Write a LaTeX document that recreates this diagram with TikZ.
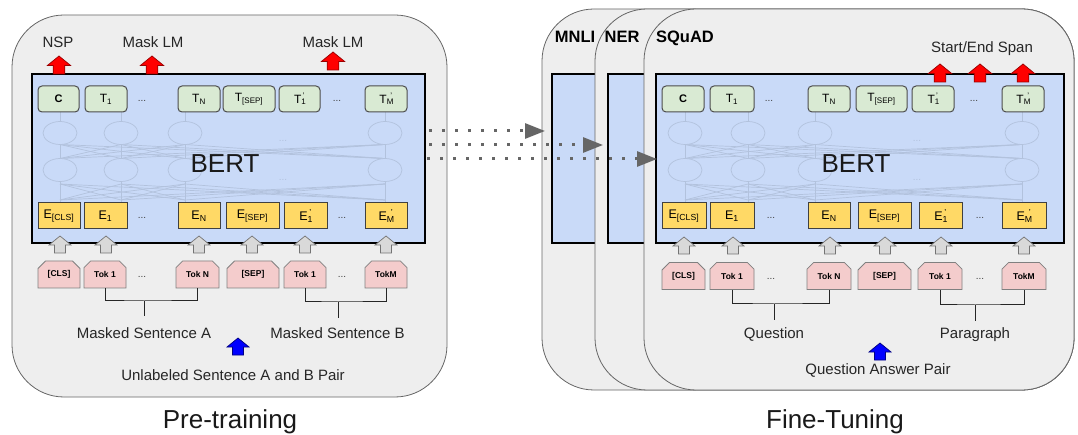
\documentclass[tikz,border=0pt]{standalone}
\usepackage{fontspec}
\setmainfont{Liberation Sans}
\usepackage{tikz}
\usetikzlibrary{shapes.misc,arrows.meta,positioning}

\definecolor{panelgray}{HTML}{EEEEEE}
\definecolor{bertblue}{HTML}{C9DAF8}
\definecolor{tgreen}{HTML}{D9EAD3}
\definecolor{eyellow}{HTML}{FFD966}
\definecolor{tokpink}{HTML}{F4CCCC}
\definecolor{netline}{HTML}{B2C2DD}

\newcommand{\tsub}[2]{#1\textsubscript{#2}}
\newcommand{\tsubp}[2]{#1\textsubscript{#2}\kern-0.3em\textsuperscript{'}}

\tikzset{
  panel/.style={draw=black!60, fill=panelgray, rounded corners=52pt, line width=0.8pt},
  bertbox/.style={draw=black, fill=bertblue, line width=2pt, inner sep=0pt},
  tbox/.style={draw=black!70, fill=tgreen, rounded corners=4pt, line width=1pt, minimum height=26pt, inner sep=0pt, font=\fontsize{12}{12}\selectfont},
  ebox/.style={draw=black!75, fill=eyellow, line width=1pt, minimum height=26pt, inner sep=0pt, font=\fontsize{12.5}{12.5}\selectfont},
  tokbox/.style={chamfered rectangle, chamfered rectangle corners={north west,north east}, chamfered rectangle xsep=4pt, draw=black!50, fill=tokpink, line width=0.8pt, minimum height=27pt, inner sep=0pt, font=\bfseries\fontsize{8.5}{9}\selectfont},
  dots/.style={font=\fontsize{10}{10}\selectfont, text=black!75},
  lbl/.style={font=\fontsize{15}{15}\selectfont, text=black!85, anchor=base, inner sep=0pt},
  tasklbl/.style={font=\bfseries\fontsize{16.5}{16.5}\selectfont, anchor=base, inner sep=0pt},
  biglbl/.style={font=\fontsize{26}{26}\selectfont, text=black!90, anchor=base, inner sep=0pt},
  net/.style={draw=netline, line width=0.7pt},
  brk/.style={draw=black!85, line width=1pt},
  dotarr/.style={draw=black!60, line width=3pt, dash pattern=on 3pt off 10pt, -{Triangle[length=20pt,width=15pt]}},
  blockup/.pic={\path[pic actions] (-5.5,0) -- (-5.5,-8) -- (-11,-8) -- (0,-17) -- (11,-8) -- (5.5,-8) -- (5.5,0) -- cycle;},
  grayarr/.style={draw=black!55, fill=black!15, line width=0.7pt},
  redarr/.style={draw=red!60!black, fill=red, line width=0.7pt, scale=1.06},
  bluearr/.style={draw=blue!50!black, fill=blue, line width=0.7pt},
}

\begin{document}
\begin{tikzpicture}[x=1pt, y=-1pt]
\useasboundingbox (0,0) rectangle (1078,435);

% pre-training panel
\draw[panel] (12,15) rectangle (447,397);
\node[bertbox, minimum width=393pt, minimum height=169pt] (pBert) at (228.5,158.5) {};
\foreach \cx in {60,121,185,385} {
  \draw[net] (\cx,112) -- (\cx,121.5);
  \draw[net] (\cx,181.5) -- (\cx,203);
  \foreach \dx in {60,121,185,385} {
    \draw[net] (\cx,144.5) -- (\dx,158.5);
    \draw[net] (\cx,184) -- (\dx,200);
  }
}
\foreach \cx in {60,121,185,385} {
  \draw[net, fill=bertblue] (\cx,133) ellipse (17 and 11.5);
  \draw[net, fill=bertblue] (\cx,170) ellipse (17 and 11.5);
}
\node[dots, text=netline] at (283,141) {...};
\node[dots, text=netline] at (283,180) {...};
\node[biglbl] (pBertLbl) at (225,173) {BERT};

\node[tbox, minimum width=41pt, font=\bfseries\fontsize{11}{11}\selectfont] (pC) at (58.5,99) {C};
\node[tbox, minimum width=42pt] (pT1) at (106,99) {\tsub{T}{1}};
\node[dots] at (142,101) {...};
\node[tbox, minimum width=42pt] (pTN) at (199,99) {\tsub{T}{N}};
\node[tbox, minimum width=52pt] (pTS) at (249,99) {\tsub{T}{[SEP]}};
\node[tbox, minimum width=41pt] (pT1b) at (299.5,99) {\tsubp{T}{1}};
\node[dots] at (337,101) {...};
\node[tbox, minimum width=42pt] (pTM) at (386,99) {\tsubp{T}{M}};

\node[ebox, minimum width=42pt] (pEC) at (59,216) {\tsub{E}{[CLS]}};
\node[ebox, minimum width=43pt] (pE1) at (105.5,216) {\tsub{E}{1}};
\node[dots] at (142,218) {...};
\node[ebox, minimum width=42pt] (pEN) at (199,216) {\tsub{E}{N}};
\node[ebox, minimum width=53pt] (pES) at (252.5,216) {\tsub{E}{[SEP]}};
\node[ebox, minimum width=43pt] (pE1b) at (305.5,216) {\tsubp{E}{1}};
\node[dots] at (342,218) {...};
\node[ebox, minimum width=42pt] (pEM) at (386,216) {\tsubp{E}{M}};

\foreach \ax in {60,106,199,252,305,386}
  \pic[grayarr] at (\ax,253) {blockup};

\node[tokbox, minimum width=42pt] (pK0) at (59,274.5) {[CLS]};
\node[tokbox, minimum width=42pt] (pK1) at (105,274.5) {Tok 1};
\node[dots] at (142,277) {...};
\node[tokbox, minimum width=43pt] (pKN) at (197.5,274.5) {Tok N};
\node[tokbox, minimum width=52pt] (pKS) at (253,274.5) {[SEP]};
\node[tokbox, minimum width=42pt] (pK1b) at (305,274.5) {Tok 1};
\node[dots] at (342,277) {...};
\node[tokbox, minimum width=42pt] (pKM) at (386,274.5) {TokM};

\coordinate (pbA) at (144,301);
\coordinate (pbB) at (338,302);
\draw[brk] (pK1.south) |- (pbA) -| (pKN.south);
\draw[brk] (pbA) -- ++(0,15);
\draw[brk] (pK1b.south) |- (pbB) -| (pKM.south);
\draw[brk] (pbB) -- ++(0,16);

\node[lbl] (pSentA) at (144,338) {Masked Sentence A};
\node[lbl] (pSentB) at (337.5,338) {Masked Sentence B};
\pic[bluearr] at (238,355) {blockup};
\node[lbl] (pPair) at (233,380) {Unlabeled Sentence A and B Pair};

\pic[redarr] at (59,74) {blockup};
\pic[redarr] at (152,74) {blockup};
\pic[redarr] at (333,70) {blockup};
\node[lbl] (nsp) at (58,48) {NSP};
\node[lbl] (mlmA) at (153,48) {Mask LM};
\node[lbl] (mlmB) at (333,48) {Mask LM};

\node[biglbl] (preLbl) at (230,428) {Pre-training};

% fine-tuning panels
\draw[panel] (542,9) rectangle (1074,390);
\node[bertbox, minimum width=512pt, minimum height=169pt] (mBert) at (808,158.5) {};
\node[tasklbl] (mnli) at (575,43) {MNLI};
\draw[panel] (595,9) rectangle (1074,390);
\node[bertbox, minimum width=456pt, minimum height=169pt] (nBert) at (836,158.5) {};
\node[tasklbl] (ner) at (622,43) {NER};
\draw[panel] (644,9) rectangle (1074,390);
\node[tasklbl] (squad) at (685,43) {SQuAD};

\node[bertbox, minimum width=408pt, minimum height=169pt] (fBert) at (860,158.5) {};
\foreach \cx in {685,748,815,1022} {
  \draw[net] (\cx,112) -- (\cx,121.5);
  \draw[net] (\cx,181.5) -- (\cx,203);
  \foreach \dx in {685,748,815,1022} {
    \draw[net] (\cx,144.5) -- (\dx,158.5);
    \draw[net] (\cx,184) -- (\dx,200);
  }
}
\foreach \cx in {685,748,815,1022} {
  \draw[net, fill=bertblue] (\cx,133) ellipse (17 and 11.5);
  \draw[net, fill=bertblue] (\cx,170) ellipse (17 and 11.5);
}
\node[dots, text=netline] at (917,141) {...};
\node[dots, text=netline] at (917,180) {...};
\node[biglbl] (fBertLbl) at (856,173) {BERT};

\node[tbox, minimum width=42pt, font=\bfseries\fontsize{11}{11}\selectfont] (fC) at (683,99) {C};
\node[tbox, minimum width=44pt] (fT1) at (732,99) {\tsub{T}{1}};
\node[dots] at (769,101) {...};
\node[tbox, minimum width=42pt] (fTN) at (829,99) {\tsub{T}{N}};
\node[tbox, minimum width=51pt] (fTS) at (881.5,99) {\tsub{T}{[SEP]}};
\node[tbox, minimum width=42pt] (fT1b) at (933,99) {\tsubp{T}{1}};
\node[dots] at (974,101) {...};
\node[tbox, minimum width=42pt] (fTM) at (1023,99) {\tsubp{T}{M}};

\node[ebox, minimum width=44pt] (fEC) at (684,216) {\tsub{E}{[CLS]}};
\node[ebox, minimum width=44pt] (fE1) at (732,216) {\tsub{E}{1}};
\node[dots] at (771,218) {...};
\node[ebox, minimum width=42pt] (fEN) at (829,216) {\tsub{E}{N}};
\node[ebox, minimum width=53pt] (fES) at (884.5,216) {\tsub{E}{[SEP]}};
\node[ebox, minimum width=43pt] (fE1b) at (940.5,216) {\tsubp{E}{1}};
\node[dots] at (980,218) {...};
\node[ebox, minimum width=44pt] (fEM) at (1024,216) {\tsubp{E}{M}};

\foreach \ax in {684,733,830,885,941,1024}
  \pic[grayarr] at (\ax,254) {blockup};

\node[tokbox, minimum width=43pt] (fK0) at (683.5,276) {[CLS]};
\node[tokbox, minimum width=44pt] (fK1) at (732,276) {Tok 1};
\node[dots] at (771,279) {...};
\node[tokbox, minimum width=44pt] (fKN) at (829,276) {Tok N};
\node[tokbox, minimum width=53pt] (fKS) at (884.5,276) {[SEP]};
\node[tokbox, minimum width=44pt] (fK1b) at (940,276) {Tok 1};
\node[dots] at (980,279) {...};
\node[tokbox, minimum width=44pt] (fKM) at (1024,276) {TokM};

\coordinate (fbQ) at (774,304);
\coordinate (fbP) at (975,305);
\draw[brk] (fK1.south) |- (fbQ) -| (fKN.south);
\draw[brk] (fbQ) -- ++(0,16);
\draw[brk] (fK1b.south) |- (fbP) -| (fKM.south);
\draw[brk] (fbP) -- ++(0,16);

\node[lbl] (quest) at (774,338) {Question};
\node[lbl] (para) at (975,338) {Paragraph};
\pic[bluearr] at (880,360) {blockup};
\node[lbl] (qaPair) at (878,374) {Question Answer Pair};

\pic[redarr] at (940,82) {blockup};
\pic[redarr] at (980,82) {blockup};
\pic[redarr] at (1023,82) {blockup};
\node[lbl] (span) at (982,53) {Start/End Span};

\node[biglbl] (fineLbl) at (835,428) {Fine-Tuning};

% transfer arrows
\coordinate (d1) at (545,131);
\coordinate (d2) at (603,145);
\coordinate (d3) at (657,159);
\draw[dotarr, shorten <=3pt] (pBert.east |- d1) -- (d1);
\draw[dotarr, shorten <=3pt] (pBert.east |- d2) -- (d2);
\draw[dotarr, shorten <=1pt] (pBert.east |- d3) -- (d3);
\end{tikzpicture}
\end{document}
